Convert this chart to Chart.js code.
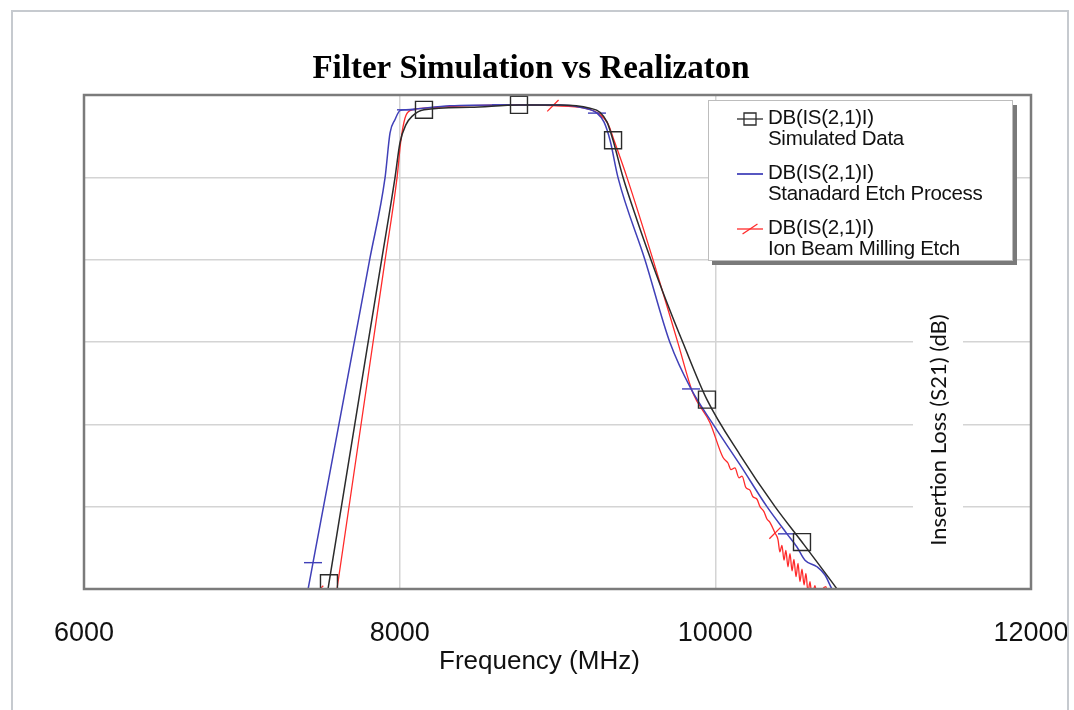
<!DOCTYPE html>
<html>
<head>
<meta charset="utf-8">
<script src="https://cdn.jsdelivr.net/npm/chart.js@4.4.0/dist/chart.umd.min.js"></script>
<style>
  html, body { margin: 0; padding: 0; background: #fff; }
  #wrap { position: relative; width: 1074px; height: 710px; overflow: hidden; }
  #frame { position: absolute; left: 11px; top: 10px; width: 1054px; height: 730px; border: 2px solid #c6cacf; pointer-events: none; }
</style>
</head>
<body>
<div id="wrap">
  <canvas id="myChart" width="1074" height="710"></canvas>
  <div id="frame"></div>
</div>
<script>
// simulated data (black, square markers)
const simFreq = [7508, 7552, 7792, 7886, 7970, 8002, 8040, 8078, 8154, 8446, 8756, 9016, 9206, 9269, 9314, 9352, 9415, 9504, 9592, 9687, 9795, 9947, 10156, 10378, 10549, 10771, 10853];
const simLoss = [-64.5, -59.3, -31.0, -20.0, -10.1, -5.8, -3.6, -2.6, -1.8, -1.5, -1.2, -1.2, -1.6, -2.1, -3.3, -5.5, -10.0, -15.2, -20.0, -24.9, -30.1, -37.0, -43.7, -50.0, -54.3, -60.0, -62.2];
const simMarks = [7552, 8154, 8756, 9352, 9947, 10549];

// standard etch process (blue, dash markers)
const stdFreq = [7381, 7413, 7451, 7703, 7810, 7907, 7939, 7970, 8002, 8040, 8319, 8642, 9016, 9174, 9250, 9295, 9333, 9383, 9554, 9713, 9846, 9979, 10156, 10327, 10454, 10517, 10568, 10644, 10695, 10739, 10790];
const stdLoss = [-63.9, -60.7, -56.8, -31.0, -20.0, -10.1, -4.6, -3.0, -1.9, -1.8, -1.3, -1.2, -1.2, -1.6, -2.2, -3.3, -5.5, -10.0, -20.0, -30.1, -35.7, -39.8, -44.9, -50.0, -53.3, -54.9, -56.5, -57.3, -58.3, -60.0, -61.3];
const stdMarks = [7451, 8040, 8642, 9250, 9846, 10454];

// ion beam milling etch (red, slanted markers)
const ibmFreq = [7400, 7480, 7540, 7603, 7824, 7908, 7983, 8008, 8034, 8065, 8154, 8446, 8762, 8971, 9174, 9256, 9320, 9358, 9440, 9605, 9763, 9858, 9966, 10048, 10080, 10099, 10124, 10150, 10169, 10194, 10219, 10238, 10264, 10283, 10308, 10327, 10346, 10378, 10397, 10409, 10422, 10435, 10447, 10460, 10473, 10486, 10498, 10511, 10524, 10536, 10549, 10562, 10574, 10587, 10600, 10612, 10631, 10650, 10676, 10701, 10714, 10758];
const ibmLoss = [-64.4, -60.3, -68.3, -60.0, -31.0, -20.0, -10.1, -5.5, -2.8, -1.9, -1.6, -1.3, -1.2, -1.3, -1.6, -2.2, -3.5, -5.5, -10.0, -20.0, -30.1, -36.2, -39.8, -44.0, -44.7, -45.5, -45.3, -46.5, -46.3, -47.7, -48.0, -48.8, -49.1, -50.0, -50.6, -51.5, -51.9, -53.2, -54.0, -55.5, -54.7, -56.5, -55.3, -57.3, -55.7, -57.8, -56.4, -58.5, -56.9, -59.1, -57.6, -59.5, -58.1, -60.4, -59.1, -61.0, -59.6, -61.3, -60.1, -59.7, -61.3, -63.2];
const ibmMarks = [7480, 8971, 10378];

const xTicks = [6000, 8000, 10000, 12000];
const seriesLabels = [
    ['DB(IS(2,1)I)', 'Simulated Data'],
    ['DB(IS(2,1)I)', 'Stanadard Etch Process'],
    ['DB(IS(2,1)I)', 'Ion Beam Milling Etch']
];

const toPoints = (fs, ls) => fs.map((f, i) => ({ x: f, y: ls[i] }));
const markAt = (marks, r) => (c) => (c.raw && marks.includes(c.raw.x) ? r : 0);

const chartTitle = {
    id: 'chartTitle',
    afterDraw(chart)
    {
        const ctx = chart.ctx;
        ctx.save();
        ctx.fillStyle = '#000';
        ctx.font = 'bold 33px "Liberation Serif"';
        ctx.textAlign = 'center';
        ctx.textBaseline = 'middle';
        ctx.fillText('Filter Simulation vs Realizaton', 531, 69);
        ctx.restore();
    }
};

const yTitle = {
    id: 'yTitle',
    beforeDatasetsDraw(chart)
    {
        const ctx = chart.ctx;
        const a = chart.chartArea;
        const cx = a.right - 92;
        ctx.save();
        ctx.fillStyle = '#fff';
        ctx.fillRect(cx - 26, 300, 50, 260);
        ctx.translate(cx, 430);
        ctx.rotate(-Math.PI / 2);
        ctx.fillStyle = '#111';
        ctx.font = '22px Lato';
        ctx.textAlign = 'center';
        ctx.textBaseline = 'middle';
        ctx.fillText('Insertion Loss (S21) (dB)', 0, 0);
        ctx.restore();
    }
};

const plotFrame = {
    id: 'plotFrame',
    afterDatasetsDraw(chart)
    {
        const ctx = chart.ctx;
        const a = chart.chartArea;
        ctx.save();
        ctx.strokeStyle = '#7b7b7b';
        ctx.lineWidth = 2.5;
        ctx.strokeRect(a.left, a.top, a.right - a.left, a.bottom - a.top);

        // legend box with drop shadow
        const lx = a.right - 323, ly = a.top + 5, lw = 305, lh = 161;
        ctx.fillStyle = '#7a7a7a';
        ctx.fillRect(lx + lw, ly + 5, 4, lh - 1);
        ctx.fillRect(lx + 4, ly + lh, lw, 4);
        ctx.fillStyle = '#fff';
        ctx.fillRect(lx, ly, lw, lh);
        ctx.strokeStyle = '#bdbdbd';
        ctx.lineWidth = 1;
        ctx.strokeRect(lx + 0.5, ly + 0.5, lw - 1, lh - 1);

        const markers = [
            { pointStyle: 'rect', radius: 8.5, rotation: 0 },
            { pointStyle: 'line', radius: 13, rotation: 0 },
            { pointStyle: 'line', radius: 9, rotation: -34 }
        ];
        chart.data.datasets.forEach((ds, i) =>
        {
            const rowY = ly + 18 + i * 55;
            ctx.strokeStyle = ds.borderColor;
            ctx.lineWidth = 1.3;
            ctx.beginPath();
            ctx.moveTo(lx + 29, rowY + 1);
            ctx.lineTo(lx + 55, rowY + 1);
            ctx.stroke();
            ctx.fillStyle = 'rgba(0,0,0,0)';
            Chart.helpers.drawPoint(ctx, Object.assign({ borderWidth: 1.3 }, markers[i]), lx + 42, rowY + 1);
            ctx.fillStyle = '#111';
            ctx.font = '20.5px "Liberation Sans"';
            ctx.letterSpacing = '-0.3px';
            ctx.textAlign = 'left';
            ctx.textBaseline = 'middle';
            ctx.fillText(ds.label[0], lx + 60, rowY);
            ctx.fillText(ds.label[1], lx + 60, rowY + 21);
        });
        ctx.restore();
    }
};

new Chart(document.getElementById('myChart').getContext('2d'), {
    type: 'line',
    data: {
        datasets: [
            {
                label: seriesLabels[0],
                data: toPoints(simFreq, simLoss),
                borderColor: '#2b2b2b',
                borderWidth: 1.5,
                cubicInterpolationMode: 'monotone',
                pointStyle: 'rect',
                pointRadius: markAt(simMarks, 12),
                pointBorderColor: '#2b2b2b',
                pointBackgroundColor: 'rgba(0,0,0,0)',
                pointBorderWidth: 1.4
            },
            {
                label: seriesLabels[1],
                data: toPoints(stdFreq, stdLoss),
                borderColor: '#4040b8',
                borderWidth: 1.5,
                cubicInterpolationMode: 'monotone',
                pointStyle: 'line',
                pointRadius: markAt(stdMarks, 9),
                pointBorderColor: '#4040b8',
                pointBorderWidth: 1.4
            },
            {
                label: seriesLabels[2],
                data: toPoints(ibmFreq, ibmLoss),
                borderColor: '#ff2a2a',
                borderWidth: 1.3,
                cubicInterpolationMode: 'monotone',
                pointStyle: 'line',
                pointRotation: -45,
                pointRadius: markAt(ibmMarks, 8),
                pointBorderColor: '#ff2a2a',
                pointBorderWidth: 1.3
            }
        ]
    },
    options: {
        responsive: false,
        animation: false,
        events: [],
        layout: {
            padding: { left: 84, right: 43, top: 95, bottom: 32.4 }
        },
        plugins: {
            legend: { display: false },
            tooltip: { enabled: false },
            title: { display: false }
        },
        scales: {
            x: {
                type: 'linear',
                min: xTicks[0],
                max: xTicks[xTicks.length - 1],
                border: { display: false },
                grid: { color: '#d4d4d4', lineWidth: 1.5, drawTicks: false },
                afterBuildTicks: (scale) => { scale.ticks = xTicks.map(v => ({ value: v })); },
                ticks: {
                    padding: 5,
                    color: '#111',
                    font: { family: 'Liberation Sans', size: 27, lineHeight: 2.9 },
                    callback: (v) => String(v)
                },
                title: {
                    display: true,
                    // trailing spaces nudge the centred title left, as in the original
                    text: 'Frequency (MHz)\u00a0\u00a0\u00a0\u00a0\u00a0',
                    color: '#111',
                    font: { family: 'Liberation Sans', size: 26 },
                    padding: { top: -30.9, bottom: 0 }
                }
            },
            y: {
                type: 'linear',
                min: -60,
                max: 0,
                border: { display: false },
                grid: { color: '#d4d4d4', lineWidth: 1.5, drawTicks: false },
                ticks: { display: false, stepSize: 10 }
            }
        }
    },
    plugins: [yTitle, plotFrame, chartTitle]
});
</script>
</body>
</html>
